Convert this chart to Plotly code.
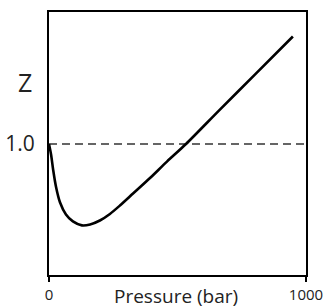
import plotly.graph_objects as go

# Pressure (bar) and compressibility factor Z
pressure = [0, 8, 16, 27, 43, 66, 93, 128, 160, 198, 237, 276, 327, 393, 459, 533, 665, 802, 949]
z_values = [1.0, 0.944, 0.864, 0.773, 0.687, 0.623, 0.586, 0.565, 0.570, 0.591, 0.626,
            0.671, 0.735, 0.818, 0.906, 1.0, 1.184, 1.372, 1.575]
ref_x = [0, 1000]
ref_z = [1.0, 1.0]
x_ticks = [0, 1000]
x_ticktext = ["0", "1000"]
y_ticks = [1.0]
y_ticktext = ["1.0"]

FONT = "Open Sans"

fig = go.Figure()
fig.add_trace(go.Scatter(x=ref_x, y=ref_z, mode="lines",
                         line=dict(color="#333333", width=1.6, dash="8px,5px"),
                         hoverinfo="skip", showlegend=False))
fig.add_trace(go.Scatter(x=pressure, y=z_values, mode="lines",
                         line=dict(color="black", width=2.6, shape="spline", smoothing=0.8),
                         showlegend=False))

fig.update_layout(
    width=326, height=308,
    margin=dict(l=49, r=20, t=12, b=33, autoexpand=False),
    paper_bgcolor="white", plot_bgcolor="white",
    font=dict(family=FONT, color="#222222"),
    xaxis=dict(range=[0, 1000], tickvals=x_ticks, ticktext=x_ticktext, automargin=False,
               showgrid=False, zeroline=False, showline=True, linecolor="black",
               linewidth=2, mirror=True, ticks="outside", ticklen=5, tickwidth=2,
               tickcolor="black", tickfont=dict(size=15, family=FONT), fixedrange=True),
    yaxis=dict(range=[0.2995, 1.706], tickvals=y_ticks, ticktext=y_ticktext, automargin=False,
               showgrid=False, zeroline=False, showline=True, linecolor="black",
               linewidth=2, mirror=True, ticks="", ticklabelstandoff=8,
               tickfont=dict(size=21, family=FONT), fixedrange=True),
    annotations=[
        dict(text="Pressure (bar)", xref="paper", yref="paper", x=0.494, y=0,
             yshift=-6, xanchor="center", yanchor="top", showarrow=False,
             font=dict(size=19, family=FONT, color="#222222")),
        dict(text="Z", xref="paper", yref="paper", x=0, xshift=-24, y=0.734,
             xanchor="center", yanchor="middle", showarrow=False,
             font=dict(size=25, family=FONT, color="#222222")),
    ],
)

fig.write_html("out.html", config={"displayModeBar": False},
               post_script="document.body.style.margin='0';")
